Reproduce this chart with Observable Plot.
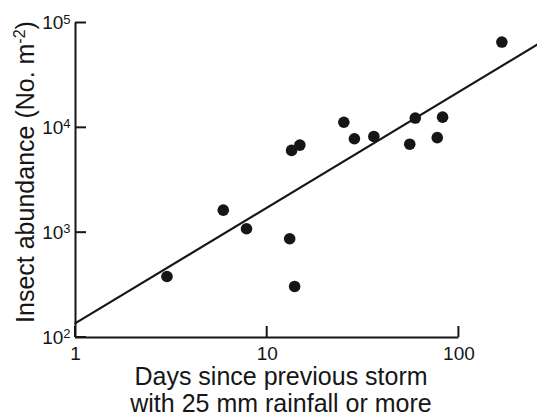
<!DOCTYPE html>
<html><head><meta charset="utf-8">
<script src="https://cdn.jsdelivr.net/npm/d3@7"></script>
<script src="https://cdn.jsdelivr.net/npm/@observablehq/plot@0.6"></script>
<style>
html,body{margin:0;padding:0;background:#fff;}
#chart svg{display:block;}
</style>
</head><body><div id="chart"></div>
<script>
const days = [3, 5.9, 7.8, 13.1, 13.9, 13.4, 14.8, 25.1, 28.5, 36, 55.4, 59.2, 77.1, 82.2, 167.5];
const abundance = [382, 1640, 1090, 875, 307, 6090, 6840, 11300, 7870, 8280, 6980, 12400, 8060, 12650, 65800];
const fitDays = [1, 257];
const fitAbundance = [137, 62500];
const xTicks = [1, 10, 100];
const yTicks = [1e2, 1e3, 1e4, 1e5];
const xTitle = ["Days since previous storm", "with 25 mm rainfall or more"];
const yTitle = ["Insect abundance (No. m", "-2", ")"];

const points = days.map((d, i) => ({days: d, abundance: abundance[i]}));
const fit = fitDays.map((d, i) => ({days: d, abundance: fitAbundance[i]}));

const ink = "#161616";
const font = "'Liberation Sans', Arial, Helvetica, sans-serif";
const tickLen = 11;

const svg = Plot.plot({
  width: 537, height: 417,
  marginLeft: 75, marginRight: 0, marginTop: 22.5, marginBottom: 80,
  x: {type: "log", domain: [1, 257]},
  y: {type: "log", domain: [100, 1e5]},
  style: {fontFamily: font, fontSize: "19px", color: ink, background: "white"},
  marks: [
    Plot.ruleX([1], {y1: 100, y2: 1e5, stroke: ink, strokeWidth: 2}),
    Plot.ruleY([100], {x1: 1, x2: 100, stroke: ink, strokeWidth: 2}),
    Plot.axisX({ticks: xTicks, tickSize: 0, tickPadding: 9, tickFormat: d => String(d), label: null, fill: ink}),
    Plot.axisY({ticks: yTicks, tickSize: 0, tickPadding: 5, tickFormat: d => "10^" + Math.round(Math.log10(d)), label: null, fill: ink}),
    Plot.line(fit, {x: "days", y: "abundance", stroke: ink, strokeWidth: 2.2}),
    Plot.dot(points, {x: "days", y: "abundance", r: 5.8, fill: ink, stroke: "none"})
  ]
});

const sx = svg.scale("x"), sy = svg.scale("y");
const s = d3.select(svg);

// inward tick marks, placed with Plot's own scales
const gt = s.append("g").attr("stroke", ink).attr("stroke-width", 2);
const x0 = sx.apply(1), y0 = sy.apply(100);
yTicks.forEach(v => {
  const y = sy.apply(v);
  gt.append("line").attr("x1", x0).attr("x2", x0 + tickLen).attr("y1", y).attr("y2", y);
});
xTicks.forEach(v => {
  const x = sx.apply(v);
  gt.append("line").attr("x1", x).attr("x2", x).attr("y1", y0).attr("y2", y0 - tickLen);
});

s.selectAll('g[aria-label="y-axis tick label"] text').each(function() {
  const t = d3.select(this);
  const parts = this.textContent.split("^");
  if (parts.length < 2) return;
  t.text(parts[0]);
  t.append("tspan").attr("dy", -5.5).attr("font-size", 13).text(parts[1]);
});

s.append("text")
  .attr("transform", "translate(33.5,172) rotate(-90)")
  .attr("text-anchor", "middle")
  .attr("font-size", 25).attr("font-family", font).attr("fill", ink)
  .call(t => {
    t.append("tspan").text(yTitle[0]);
    t.append("tspan").attr("font-size", 16).attr("dy", -9).text(yTitle[1]);
    t.append("tspan").attr("dy", 9).text(yTitle[2]);
  });

xTitle.forEach((line, i) => {
  s.append("text")
    .attr("x", 281).attr("y", 384.5 + i * 27)
    .attr("text-anchor", "middle")
    .attr("font-size", 25).attr("font-family", font).attr("fill", ink)
    .text(line);
});

document.getElementById("chart").appendChild(svg);
</script>
</body></html>
